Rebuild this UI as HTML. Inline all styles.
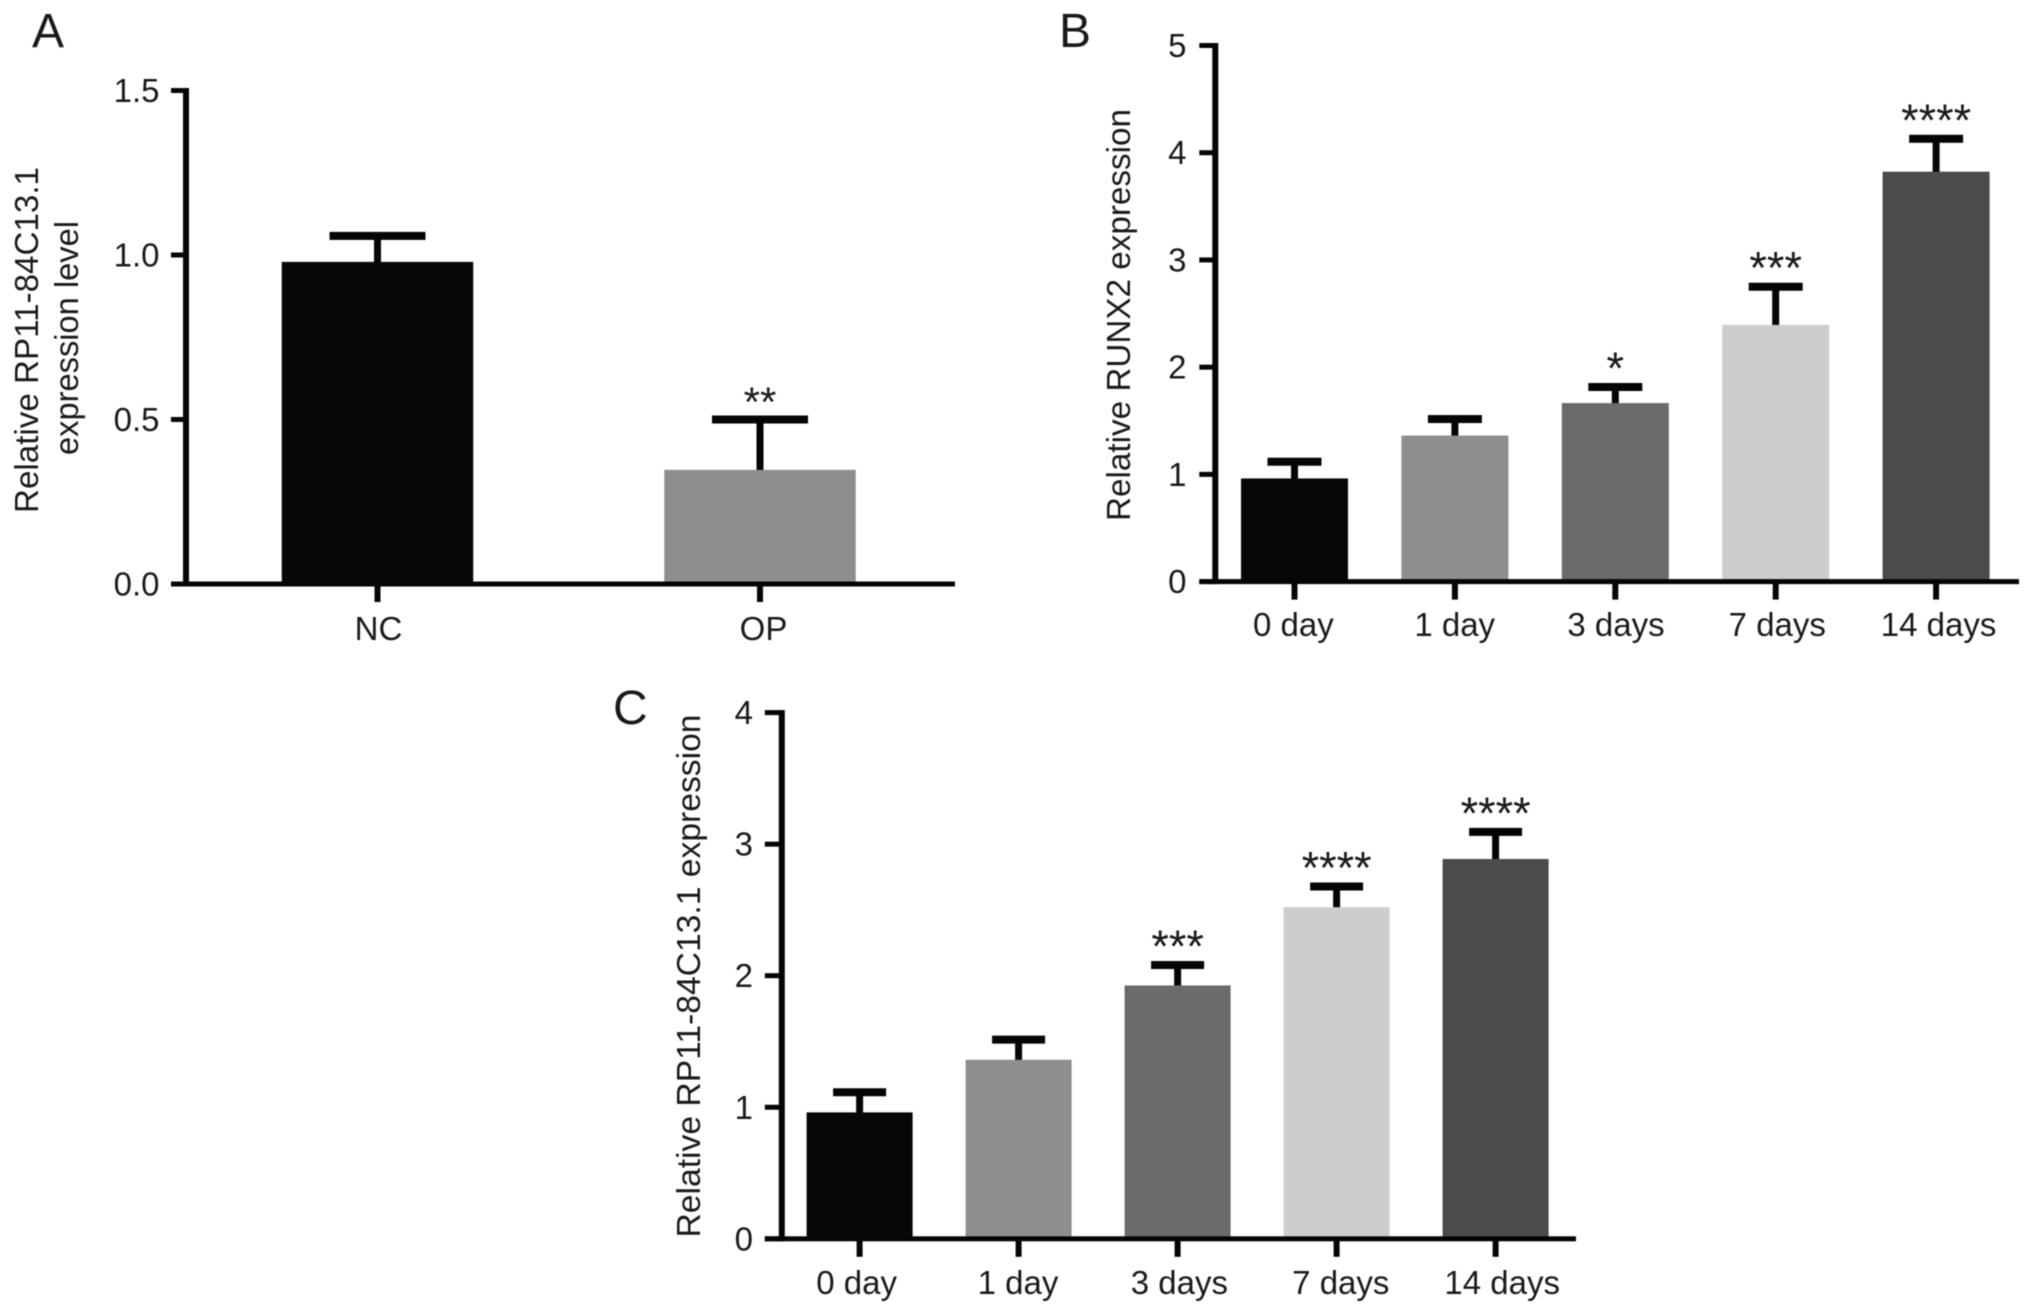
<!DOCTYPE html>
<html lang="en">
<head>
<meta charset="utf-8">
<title>Relative expression bar charts</title>
<style>
html,body{margin:0;padding:0;background:#fff;width:2032px;height:1314px;overflow:hidden}
svg{display:block;filter:blur(0.6px)}
text{font-family:"Liberation Sans",Arial,sans-serif;fill:#1a1a1a}
</style>
</head>
<body>
<svg id="figure" xmlns="http://www.w3.org/2000/svg" width="2032" height="1314" viewBox="0 0 2032 1314">
  <rect x="0" y="0" width="2032" height="1314" fill="#ffffff"/>
</svg>
<script>
// Panel A data
const categoriesA = ['NC', 'OP'];
const meansA = [0.979, 0.347];
const errorsA = [0.079, 0.153];
const starsA = ['', '**'];
const yTicksA = [0, 0.5, 1.0, 1.5];
const yTickLabelsA = ['0.0', '0.5', '1.0', '1.5'];

// Panel B data
const categoriesB = ['0 day', '1 day', '3 days', '7 days', '14 days'];
const meansB = [0.962, 1.362, 1.665, 2.394, 3.823];
const errorsB = [0.156, 0.154, 0.150, 0.356, 0.307];
const starsB = ['', '', '*', '***', '****'];
const yTicksB = [0, 1, 2, 3, 4, 5];
const yTickLabelsB = ['0', '1', '2', '3', '4', '5'];

// Panel C data
const categoriesC = ['0 day', '1 day', '3 days', '7 days', '14 days'];
const meansC = [0.961, 1.361, 1.926, 2.521, 2.887];
const errorsC = [0.153, 0.153, 0.155, 0.157, 0.206];
const starsC = ['', '', '***', '****', '****'];
const yTicksC = [0, 1, 2, 3, 4];
const yTickLabelsC = ['0', '1', '2', '3', '4'];

const shades = ['#070707', '#8e8e8e', '#6b6b6b', '#cdcdcd', '#4b4b4b'];

const NS = 'http://www.w3.org/2000/svg';
const figure = document.getElementById('figure');

function mk(tag, attrs, parent) {
  const el = document.createElementNS(NS, tag);
  for (const k in attrs) el.setAttribute(k, attrs[k]);
  parent.appendChild(el);
  return el;
}

function drawPanel(p) {
  const group = mk('g', {}, figure);
  
  

  const yScale = v => p.y0 - (v - p.yMin) * (p.y0 - p.yTop) / (p.yMax - p.yMin);
  const xScale = i => p.x0 + p.firstOffset + i * p.step;

  const letter = mk('text', { x: p.letterX, y: p.letterY, 'font-size': 48 }, group);
  
  
  letter.textContent = p.id.toUpperCase();

  p.titles.forEach((t, i) => {
    const title = mk('text', {
      transform: 'translate(' + t.x + ',' + t.yMid + ') rotate(-90)',
      'text-anchor': 'middle',
      'font-size': 33,
      textLength: t.len,
      lengthAdjust: 'spacingAndGlyphs',
      fill: '#262626'
    }, group);
    
    
    title.textContent = t.text;
  });

  p.means.forEach((m, i) => {
    const cx = xScale(i);
    const top = yScale(m);
    const capY = yScale(m + p.errors[i]);

    const stem = mk('rect', { x: cx - 3.5, y: capY, width: 7, height: top - capY + 1, fill: '#050505' }, group);
    
    

    const cap = mk('rect', { x: cx - p.capW / 2, y: capY - 4, width: p.capW, height: 8, fill: '#050505' }, group);
    
    

    const bar = mk('rect', { x: cx - p.barW / 2, y: top, width: p.barW, height: p.y0 - top, fill: shades[i] }, group);
    
    

    if (p.stars[i]) {
      const star = mk('text', {
        x: cx + p.starDx,
        y: capY - 3,
        'text-anchor': 'middle',
        'font-size': p.starSize,
        fill: '#111111'
      }, group);
      
      
      star.textContent = p.stars[i];
    }

    const tick = mk('rect', { x: cx - 3, y: p.y0, width: 6, height: 18, fill: '#050505' }, group);
    
    

    const label = mk('text', { x: p.labelFirst + i * p.labelStep, y: p.labelY, 'text-anchor': 'middle', 'font-size': 33 }, group);
    
    
    label.textContent = p.categories[i];
  });

  p.yTicks.forEach((v, i) => {
    const y = yScale(v);
    const tick = mk('rect', { x: p.x0 - p.tickLen, y: y - 2.5, width: p.tickLen, height: 5, fill: '#050505' }, group);
    
    

    const label = mk('text', { x: p.labelRight, y: y + 11.5, 'text-anchor': 'end', 'font-size': 33 }, group);
    
    
    label.textContent = p.yTickLabels[i];
  });

  const yAxis = mk('rect', { x: p.x0 - 3, y: p.yTop - 2.5, width: 6, height: p.y0 - p.yTop + 5, fill: '#050505' }, group);
  
  

  const xAxis = mk('rect', { x: p.x0 - p.tickLen, y: p.y0 - 2.5, width: p.xEnd - p.x0 + p.tickLen, height: 5, fill: '#050505' }, group);
  
  
}

drawPanel({
  id: 'a', categories: categoriesA, means: meansA, errors: errorsA, stars: starsA,
  yTicks: yTicksA, yTickLabels: yTickLabelsA, yMin: 0, yMax: 1.5,
  x0: 186, xEnd: 955, y0: 584, yTop: 90.5, tickLen: 15,
  firstOffset: 191.5, step: 382.5, barW: 191.5, capW: 96, starSize: 42, starDx: 0,
  labelFirst: 378.5, labelStep: 385, labelY: 640, labelRight: 159.5, letterX: 32, letterY: 47,
  titles: [
    { text: 'Relative RP11-84C13.1', x: 38, yMid: 340, len: 346 },
    { text: 'expression level', x: 78, yMid: 338, len: 234 }
  ]
});

drawPanel({
  id: 'b', categories: categoriesB, means: meansB, errors: errorsB, stars: starsB,
  yTicks: yTicksB, yTickLabels: yTickLabelsB, yMin: 0, yMax: 5,
  x0: 1215.3, xEnd: 2019, y0: 581.6, yTop: 45.5, tickLen: 16,
  firstOffset: 79.2, step: 160.4, barW: 107, capW: 54, starSize: 45, starDx: 0,
  labelFirst: 1293.4, labelStep: 161.3, labelY: 636, labelRight: 1186.5, letterX: 1059, letterY: 47,
  titles: [
    { text: 'Relative RUNX2 expression', x: 1130, yMid: 315, len: 412 }
  ]
});

drawPanel({
  id: 'c', categories: categoriesC, means: meansC, errors: errorsC, stars: starsC,
  yTicks: yTicksC, yTickLabels: yTickLabelsC, yMin: 0, yMax: 4,
  x0: 781.8, xEnd: 1576, y0: 1238.8, yTop: 712.6, tickLen: 17,
  firstOffset: 77.8, step: 159, barW: 106, capW: 53, starSize: 45, starDx: 0,
  labelFirst: 856.6, labelStep: 161.4, labelY: 1294, labelRight: 753, letterX: 613, letterY: 724,
  titles: [
    { text: 'Relative RP11-84C13.1 expression', x: 700, yMid: 976, len: 523 }
  ]
});
</script>
</body>
</html>
